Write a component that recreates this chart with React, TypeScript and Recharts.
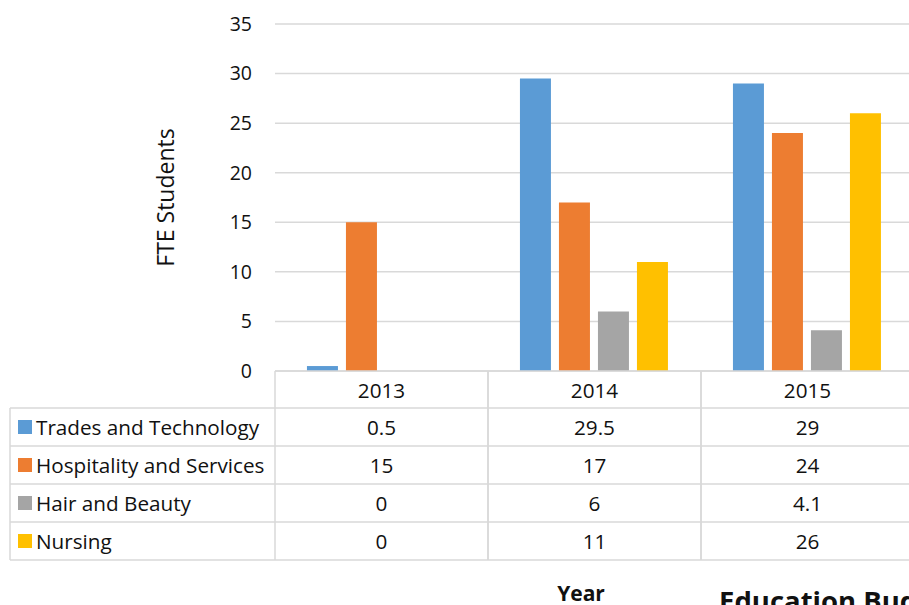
import { BarChart, Bar, XAxis, YAxis, CartesianGrid, Label } from 'recharts'

const years = ['2013', '2014', '2015']
const trades = [0.5, 29.5, 29]
const hospitality = [15, 17, 24]
const hair = [0, 6, 4.1]
const nursing = [0, 11, 26]
const yTicks = [0, 5, 10, 15, 20, 25, 30, 35]

const series = [
  { key: 'trades', name: 'Trades and Technology', color: '#5B9BD5', values: trades },
  { key: 'hospitality', name: 'Hospitality and Services', color: '#ED7D31', values: hospitality },
  { key: 'hair', name: 'Hair and Beauty', color: '#A5A5A5', values: hair },
  { key: 'nursing', name: 'Nursing', color: '#FFC000', values: nursing },
]

const data = years.map((year, i) => {
  const row: Record<string, string | number> = { year }
  series.forEach(s => { row[s.key] = s.values[i] })
  return row
})

const FONT = '"Open Sans", sans-serif'
const GRID = '#d9d9d9'
const TEXT = '#111'
const FS = 20.7

const W = 930
const H = 605
const M = { top: 24, right: 16, left: 0, bottom: 45 }
const Y_W = 275
const TABLE_H = 189
// row boundaries under the axis: header row, then one per series
const ROWS = [0, 37, 75, 113, 151, 189]

const TableTick = (props: any) => {
  const { x, y, payload, index } = props
  const plotW = props.width ?? (W - M.left - M.right - Y_W)
  const band = plotW / years.length
  const left = x - band / 2
  const right = x + band / 2
  const i = payload?.index ?? index
  const mid = (a: number, b: number) => y + (ROWS[a] + ROWS[b]) / 2

  return (
    <g>
      <line x1={left} y1={y} x2={left} y2={y + ROWS[5]} stroke={GRID} strokeWidth={1.5} />
      <line x1={right} y1={y} x2={right} y2={y + ROWS[5]} stroke={GRID} strokeWidth={1.5} />
      {ROWS.slice(1).map(r => (
        <line key={r} x1={left} y1={y + r} x2={right} y2={y + r} stroke={GRID} strokeWidth={1.5} />
      ))}
      <text x={x} y={mid(0, 1)} textAnchor="middle" dominantBaseline="central" fontSize={FS} fontFamily={FONT} fill={TEXT}>
        {payload.value}
      </text>
      {series.map((s, k) => (
        <text key={s.key} x={x} y={mid(k + 1, k + 2)} textAnchor="middle" dominantBaseline="central" fontSize={FS} fontFamily={FONT} fill={TEXT}>
          {s.values[i]}
        </text>
      ))}
      {i === 0 && (
        <g>
          <line x1={10} y1={y + ROWS[1]} x2={10} y2={y + ROWS[5]} stroke={GRID} strokeWidth={1.5} />
          {ROWS.slice(1).map(r => (
            <line key={r} x1={10} y1={y + r} x2={left} y2={y + r} stroke={GRID} strokeWidth={1.5} />
          ))}
          {series.map((s, k) => (
            <g key={s.key}>
              <rect x={18} y={mid(k + 1, k + 2) - 7} width={14} height={14} fill={s.color} />
              <text x={36} y={mid(k + 1, k + 2)} dominantBaseline="central" fontSize={FS} fontFamily={FONT} fill={TEXT}>
                {s.name}
              </text>
            </g>
          ))}
        </g>
      )}
    </g>
  )
}

export default function App() {
  return (
    <div style={{ position: 'absolute', left: 0, top: 0, width: 909, height: 605, overflow: 'hidden', background: '#fff' }}>
      <BarChart width={W} height={H} data={data} margin={M} barCategoryGap="15%" barGap={8}>
        <CartesianGrid horizontal vertical={false} stroke={GRID} strokeWidth={1.5} />
        <XAxis
          dataKey="year"
          height={TABLE_H}
          tickLine={false}
          tickSize={0}
          tickMargin={0}
          axisLine={{ stroke: GRID, strokeWidth: 1.5 }}
          tick={<TableTick />}
          interval={0}
        />
        <YAxis
          width={Y_W}
          domain={[0, 35]}
          ticks={yTicks}
          tickLine={false}
          axisLine={false}
          tickSize={0}
          tickMargin={23}
          tick={{ fontSize: 19.5, fontFamily: FONT, fill: TEXT }}
        >
          <Label
            content={(p: any) => {
              const vb = p.viewBox
              const cy = vb.y + vb.height / 2
              return (
                <text x={165} y={cy} transform={`rotate(-90 165 ${cy})`} textAnchor="middle" dominantBaseline="central" fontSize={23} fontFamily={FONT} fill={TEXT}>
                  FTE Students
                </text>
              )
            }}
          />
        </YAxis>
        {series.map(s => (
          <Bar key={s.key} dataKey={s.key} name={s.name} fill={s.color} isAnimationActive={false} />
        ))}
      </BarChart>
      <span style={{ position: 'absolute', left: 581, top: 579, transform: 'translateX(-50%)', fontFamily: FONT, fontWeight: 700, fontSize: 21, color: TEXT, whiteSpace: 'nowrap' }}>
        Year
      </span>
      <span style={{ position: 'absolute', left: 719, top: 582, fontFamily: FONT, fontWeight: 700, fontSize: 27.5, color: TEXT, whiteSpace: 'nowrap' }}>
        Education Budget
      </span>
    </div>
  )
}
